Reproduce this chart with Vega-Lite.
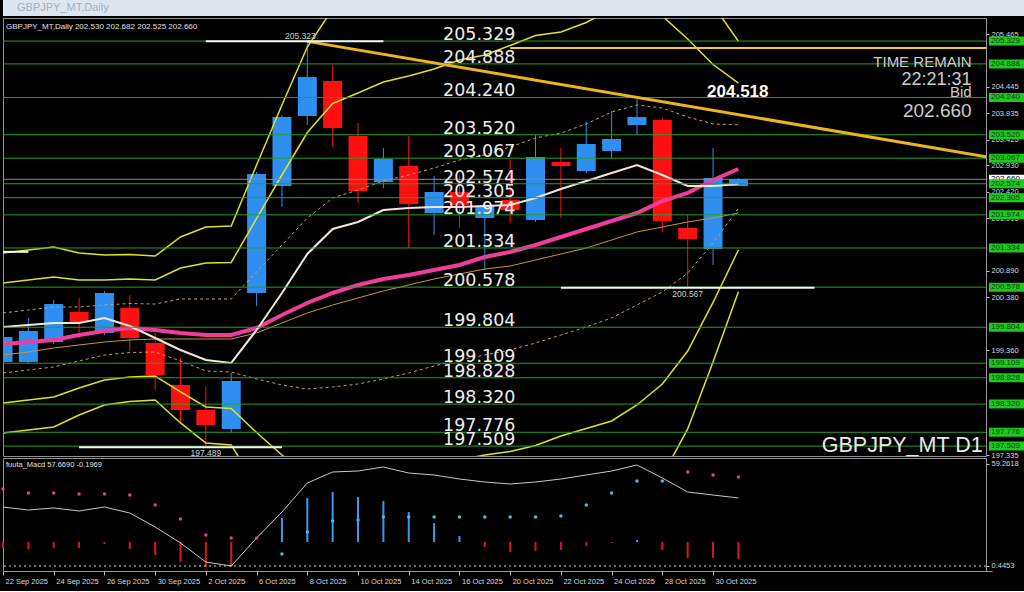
{
"$schema": "https://vega.github.io/schema/vega-lite/v6.json",
"background": "#000000",
"padding": {"left": 0, "top": 0, "right": 0, "bottom": 6},
"spacing": 2,
"bounds": "flush",
"datasets": {
"b": [
{"d":"22 Sep 2025","o":199.133,"h":199.65,"l":199.10,"c":199.616,"ma":199.809,"ema":199.481,"sma":199.268,"u1":200.079,"u2":200.658,"u3":201.238,"l1":198.921,"l2":198.342,"l3":197.762,"m":34.46,"hb":10.82,"dt":44.84,"dk":"p"},
{"d":"23 Sep 2025","o":199.133,"h":199.982,"l":199.10,"c":199.731,"ma":199.847,"ema":199.519,"sma":199.326,"u1":200.137,"u2":200.716,"u3":201.296,"l1":198.979,"l2":198.400,"l3":197.820,"m":32.73,"hb":10.25,"dt":42.54,"dk":"p"},
{"d":"24 Sep 2025","o":199.519,"h":200.33,"l":199.48,"c":200.253,"ma":199.886,"ema":199.558,"sma":199.403,"u1":200.195,"u2":200.774,"u3":201.354,"l1":199.037,"l2":198.458,"l3":197.878,"m":33.89,"hb":10.82,"dt":42.54,"dk":"p"},
{"d":"25 Sep 2025","o":200.098,"h":200.368,"l":199.596,"c":199.905,"ma":199.886,"ema":199.654,"sma":199.461,"u1":200.195,"u2":200.716,"u3":201.238,"l1":199.153,"l2":198.632,"l3":198.110,"m":32.16,"hb":10.82,"dt":41.96,"dk":"p"},
{"d":"26 Sep 2025","o":199.693,"h":200.504,"l":199.65,"c":200.465,"ma":199.982,"ema":199.731,"sma":199.519,"u1":200.234,"u2":200.716,"u3":201.199,"l1":199.268,"l2":198.786,"l3":198.303,"m":34.46,"hb":13.13,"dt":41.96,"dk":"p"},
{"d":"29 Sep 2025","o":200.175,"h":200.426,"l":199.345,"c":199.596,"ma":199.828,"ema":199.789,"sma":199.558,"u1":200.262,"u2":200.735,"u3":201.208,"l1":199.316,"l2":198.843,"l3":198.370,"m":31.00,"hb":10.25,"dt":41.38,"dk":"p"},
{"d":"30 Sep 2025","o":199.50,"h":199.693,"l":198.592,"c":198.882,"ma":199.596,"ema":199.751,"sma":199.577,"u1":200.252,"u2":200.716,"u3":201.179,"l1":199.326,"l2":198.862,"l3":198.399,"m":22.93,"hb":6.79,"dt":35.62,"dk":"p"},
{"d":"1 Oct 2025","o":198.689,"h":199.21,"l":197.955,"c":198.206,"ma":199.365,"ema":199.693,"sma":199.577,"u1":200.350,"u2":200.948,"u3":201.547,"l1":199.153,"l2":198.554,"l3":197.956,"m":13.71,"hb":2.75,"dt":27.55,"dk":"p"},
{"d":"2 Oct 2025","o":198.206,"h":198.65,"l":197.489,"c":197.917,"ma":199.172,"ema":199.654,"sma":199.577,"u1":200.349,"u2":201.044,"u3":201.739,"l1":198.959,"l2":198.264,"l3":197.569,"m":2.75,"hb":-0.13,"dt":18.32,"dk":"p"},
{"d":"3 Oct 2025","o":197.84,"h":198.921,"l":197.762,"c":198.766,"ma":199.114,"ema":199.654,"sma":199.577,"u1":200.350,"u2":201.054,"u3":201.759,"l1":198.940,"l2":198.236,"l3":197.531,"m":0.45,"hb":-0.13,"dt":16.59,"dk":"p"},
{"d":"6 Oct 2025","o":200.465,"h":202.80,"l":200.214,"c":202.762,"ma":199.751,"ema":199.789,"sma":199.693,"u1":200.871,"u2":201.904,"u3":202.936,"l1":198.805,"l2":197.772,"l3":196.740,"m":16.59,"hb":14.0,"dt":16.59,"dk":"p"},
{"d":"7 Oct 2025","o":202.531,"h":203.90,"l":202.125,"c":203.863,"ma":200.465,"ema":200.040,"sma":199.886,"u1":201.391,"u2":202.743,"u3":204.094,"l1":198.689,"l2":197.337,"l3":195.986,"m":31.58,"hb":28.12,"dt":7.36,"dk":"c"},
{"d":"8 Oct 2025","o":203.882,"h":205.323,"l":203.708,"c":204.635,"ma":201.218,"ema":200.272,"sma":200.079,"u1":201.913,"u2":203.563,"u3":205.214,"l1":198.611,"l2":196.961,"l3":195.310,"m":48.30,"hb":39.65,"dt":20.05,"dk":"c"},
{"d":"9 Oct 2025","o":204.558,"h":204.867,"l":203.284,"c":203.65,"ma":201.701,"ema":200.465,"sma":200.233,"u1":202.299,"u2":204.124,"u3":205.948,"l1":198.651,"l2":196.826,"l3":195.002,"m":54.65,"hb":43.11,"dt":26.39,"dk":"c"},
{"d":"10 Oct 2025","o":203.496,"h":203.747,"l":202.202,"c":202.434,"ma":201.836,"ema":200.620,"sma":200.369,"u1":202.454,"u2":204.326,"u3":206.199,"l1":198.708,"l2":196.836,"l3":194.963,"m":55.22,"hb":40.23,"dt":26.97,"dk":"c"},
{"d":"13 Oct 2025","o":202.608,"h":203.264,"l":202.492,"c":203.052,"ma":202.067,"ema":200.735,"sma":200.504,"u1":202.627,"u2":204.538,"u3":206.450,"l1":198.805,"l2":196.894,"l3":194.982,"m":57.53,"hb":37.92,"dt":28.70,"dk":"c"},
{"d":"14 Oct 2025","o":202.917,"h":203.496,"l":201.334,"c":202.183,"ma":202.106,"ema":200.813,"sma":200.620,"u1":202.743,"u2":204.654,"u3":206.566,"l1":198.921,"l2":197.010,"l3":195.098,"m":54.07,"hb":31.58,"dt":28.70,"dk":"c"},
{"d":"15 Oct 2025","o":202.009,"h":202.724,"l":201.585,"c":202.415,"ma":202.125,"ema":200.909,"sma":200.735,"u1":202.878,"u2":204.789,"u3":206.701,"l1":199.056,"l2":197.145,"l3":195.233,"m":52.92,"hb":25.24,"dt":28.70,"dk":"c"},
{"d":"16 Oct 2025","o":202.415,"h":202.74,"l":201.72,"c":202.164,"ma":202.125,"ema":201.006,"sma":200.832,"u1":203.033,"u2":204.963,"u3":206.894,"l1":199.172,"l2":197.241,"l3":195.311,"m":50.61,"hb":17.74,"dt":28.70,"dk":"c"},
{"d":"17 Oct 2025","o":201.913,"h":202.18,"l":200.909,"c":202.145,"ma":202.145,"ema":201.160,"sma":200.928,"u1":203.129,"u2":205.060,"u3":206.990,"l1":199.268,"l2":197.338,"l3":195.407,"m":48.88,"hb":11.40,"dt":28.70,"dk":"c"},
{"d":"20 Oct 2025","o":202.26,"h":203.033,"l":201.816,"c":202.067,"ma":202.164,"ema":201.257,"sma":200.986,"u1":203.284,"u2":205.243,"u3":207.203,"l1":199.365,"l2":197.405,"l3":195.446,"m":47.73,"hb":8.52,"dt":28.70,"dk":"c"},
{"d":"21 Oct 2025","o":201.874,"h":203.515,"l":201.836,"c":203.09,"ma":202.299,"ema":201.392,"sma":201.102,"u1":203.457,"u2":205.436,"u3":207.415,"l1":199.500,"l2":197.521,"l3":195.542,"m":48.88,"hb":9.09,"dt":28.70,"dk":"c"},
{"d":"22 Oct 2025","o":202.994,"h":203.264,"l":201.913,"c":202.917,"ma":202.473,"ema":201.546,"sma":201.218,"u1":203.554,"u2":205.504,"u3":207.453,"l1":199.654,"l2":197.704,"l3":195.755,"m":50.61,"hb":9.67,"dt":29.28,"dk":"c"},
{"d":"23 Oct 2025","o":202.82,"h":203.766,"l":202.78,"c":203.341,"ma":202.627,"ema":201.701,"sma":201.334,"u1":203.728,"u2":205.687,"u3":207.647,"l1":199.809,"l2":197.849,"l3":195.890,"m":52.92,"hb":11.98,"dt":35.62,"dk":"c"},
{"d":"24 Oct 2025","o":203.206,"h":203.979,"l":203.071,"c":203.438,"ma":202.782,"ema":201.855,"sma":201.488,"u1":203.959,"u2":205.948,"u3":207.936,"l1":199.983,"l2":197.994,"l3":196.006,"m":55.22,"hb":13.71,"dt":42.54,"dk":"c"},
{"d":"27 Oct 2025","o":203.708,"h":204.229,"l":203.515,"c":203.863,"ma":202.936,"ema":202.009,"sma":201.643,"u1":204.095,"u2":206.025,"u3":207.956,"l1":200.234,"l2":198.303,"l3":196.373,"m":58.68,"hb":15.44,"dt":49.46,"dk":"c"},
{"d":"28 Oct 2025","o":203.805,"h":203.843,"l":201.643,"c":201.855,"ma":202.743,"ema":202.241,"sma":201.739,"u1":204.036,"u2":205.812,"u3":207.588,"l1":200.484,"l2":198.708,"l3":196.932,"m":51.19,"hb":9.67,"dt":49.46,"dk":"c"},
{"d":"29 Oct 2025","o":201.72,"h":201.971,"l":200.567,"c":201.507,"ma":202.531,"ema":202.396,"sma":201.836,"u1":203.863,"u2":205.369,"u3":206.874,"l1":200.851,"l2":199.345,"l3":197.840,"m":43.11,"hb":5.06,"dt":54.65,"dk":"p"},
{"d":"30 Oct 2025","o":201.314,"h":203.264,"l":201.006,"c":202.685,"ma":202.531,"ema":202.647,"sma":201.913,"u1":203.728,"u2":204.876,"u3":206.025,"l1":201.430,"l2":200.282,"l3":199.133,"m":41.38,"hb":5.06,"dt":52.92,"dk":"p"},
{"d":"31 Oct 2025","o":202.530,"h":202.682,"l":202.525,"c":202.660,"ma":202.569,"ema":202.859,"sma":202.009,"u1":203.713,"u2":204.518,"u3":205.325,"l1":202.101,"l2":201.295,"l3":200.489,"m":39.65,"hb":4.48,"dt":51.76,"dk":"p"}
],
"lv": [{"p":205.329},{"p":204.888},{"p":204.240},{"p":203.520},{"p":203.067},{"p":202.574},{"p":202.305},{"p":201.974},{"p":201.334},{"p":200.578},{"p":199.804},{"p":199.109},{"p":198.828},{"p":198.320},{"p":197.776},{"p":197.509}]
},
"vconcat": [
{
"width": 1024, "height": 16,
"view": {"fill": "#dde6ee", "stroke": null},
"data": {"values": [{"t": "GBPJPY_MT,Daily"}]},
"mark": {"type": "text", "align": "left", "baseline": "middle", "dx": 14, "fontSize": 11, "color": "#9fb0c2", "font": "Liberation Sans"},
"encoding": {"x": {"datum": 0, "type": "quantitative", "scale": {"domain": [0, 1]}, "axis": null}, "text": {"field": "t"}}
},
{
"width": 983, "height": 438,
"layer": [
{"data": {"name": "b"}, "mark": {"type": "rule", "strokeWidth": 1, "clip": true},
 "encoding": {"x": {"field": "d", "type": "ordinal", "scale": {"type": "point", "domain": ["22 Sep 2025","23 Sep 2025","24 Sep 2025","25 Sep 2025","26 Sep 2025","29 Sep 2025","30 Sep 2025","1 Oct 2025","2 Oct 2025","3 Oct 2025","6 Oct 2025","7 Oct 2025","8 Oct 2025","9 Oct 2025","10 Oct 2025","13 Oct 2025","14 Oct 2025","15 Oct 2025","16 Oct 2025","17 Oct 2025","20 Oct 2025","21 Oct 2025","22 Oct 2025","23 Oct 2025","24 Oct 2025","27 Oct 2025","28 Oct 2025","29 Oct 2025","30 Oct 2025","31 Oct 2025","3 Nov 2025","4 Nov 2025","5 Nov 2025","6 Nov 2025","7 Nov 2025","10 Nov 2025","11 Nov 2025","12 Nov 2025","13 Nov 2025","14 Nov 2025"], "range": [0, 989], "padding": 0}, "axis": null},
  "y": {"field": "l", "type": "quantitative", "scale": {"domain": [197.318, 205.774], "nice": false, "zero": false}},
  "y2": {"field": "h"},
  "color": {"condition": {"test": "datum.c >= datum.o", "value": "#2f8ff0"}, "value": "#ff1010"}}},
{"data": {"name": "b"}, "mark": {"type": "bar", "size": 19, "clip": true},
 "encoding": {"x": {"field": "d", "type": "ordinal", "scale": {"type": "point", "domain": ["22 Sep 2025","23 Sep 2025","24 Sep 2025","25 Sep 2025","26 Sep 2025","29 Sep 2025","30 Sep 2025","1 Oct 2025","2 Oct 2025","3 Oct 2025","6 Oct 2025","7 Oct 2025","8 Oct 2025","9 Oct 2025","10 Oct 2025","13 Oct 2025","14 Oct 2025","15 Oct 2025","16 Oct 2025","17 Oct 2025","20 Oct 2025","21 Oct 2025","22 Oct 2025","23 Oct 2025","24 Oct 2025","27 Oct 2025","28 Oct 2025","29 Oct 2025","30 Oct 2025","31 Oct 2025","3 Nov 2025","4 Nov 2025","5 Nov 2025","6 Nov 2025","7 Nov 2025","10 Nov 2025","11 Nov 2025","12 Nov 2025","13 Nov 2025","14 Nov 2025"], "range": [0, 989], "padding": 0}, "axis": null},
  "y": {"field": "o", "type": "quantitative", "scale": {"domain": [197.318, 205.774], "nice": false, "zero": false}},
  "y2": {"field": "c"},
  "color": {"condition": {"test": "datum.c >= datum.o", "value": "#2f8ff0"}, "value": "#ff1010"}}},
{"data": {"name": "b"}, "mark": {"type": "line", "order": false, "color": "#e2e21e", "strokeWidth": 1.5, "clip": true},
 "encoding": {"x": {"field": "d", "type": "ordinal", "axis": null}, "y": {"field": "u3", "type": "quantitative", "scale": {"domain": [197.318, 205.774], "nice": false, "zero": false}}}},
{"data": {"name": "b"}, "mark": {"type": "line", "order": false, "color": "#e2e21e", "strokeWidth": 1.5, "clip": true},
 "encoding": {"x": {"field": "d", "type": "ordinal", "axis": null}, "y": {"field": "u2", "type": "quantitative", "scale": {"domain": [197.318, 205.774], "nice": false, "zero": false}}}},
{"data": {"name": "b"}, "mark": {"type": "line", "order": false, "color": "#e2e21e", "strokeWidth": 1.5, "clip": true},
 "encoding": {"x": {"field": "d", "type": "ordinal", "axis": null}, "y": {"field": "l2", "type": "quantitative", "scale": {"domain": [197.318, 205.774], "nice": false, "zero": false}}}},
{"data": {"name": "b"}, "mark": {"type": "line", "order": false, "color": "#e2e21e", "strokeWidth": 1.5, "clip": true},
 "encoding": {"x": {"field": "d", "type": "ordinal", "axis": null}, "y": {"field": "l3", "type": "quantitative", "scale": {"domain": [197.318, 205.774], "nice": false, "zero": false}}}},
{"data": {"name": "b"}, "mark": {"type": "line", "order": false, "color": "#c9a05a", "strokeWidth": 1, "strokeDash": [3, 3], "clip": true},
 "encoding": {"x": {"field": "d", "type": "ordinal", "axis": null}, "y": {"field": "u1", "type": "quantitative", "scale": {"domain": [197.318, 205.774], "nice": false, "zero": false}}}},
{"data": {"name": "b"}, "mark": {"type": "line", "order": false, "color": "#c9a05a", "strokeWidth": 1, "strokeDash": [3, 3], "clip": true},
 "encoding": {"x": {"field": "d", "type": "ordinal", "axis": null}, "y": {"field": "l1", "type": "quantitative", "scale": {"domain": [197.318, 205.774], "nice": false, "zero": false}}}},
{"data": {"name": "b"}, "mark": {"type": "line", "order": false, "color": "#c8962e", "strokeWidth": 1, "clip": true},
 "encoding": {"x": {"field": "d", "type": "ordinal", "axis": null}, "y": {"field": "sma", "type": "quantitative", "scale": {"domain": [197.318, 205.774], "nice": false, "zero": false}}}},
{"data": {"name": "b"}, "mark": {"type": "line", "order": false, "color": "#f03c9a", "strokeWidth": 4, "clip": true},
 "encoding": {"x": {"field": "d", "type": "ordinal", "axis": null}, "y": {"field": "ema", "type": "quantitative", "scale": {"domain": [197.318, 205.774], "nice": false, "zero": false}}}},
{"data": {"name": "b"}, "mark": {"type": "line", "order": false, "color": "#f2e6dc", "strokeWidth": 2, "clip": true},
 "encoding": {"x": {"field": "d", "type": "ordinal", "axis": null}, "y": {"field": "ma", "type": "quantitative", "scale": {"domain": [197.318, 205.774], "nice": false, "zero": false}}}},
{"data": {"name": "lv"}, "mark": {"type": "rule", "color": "#22a022", "strokeWidth": 1},
 "encoding": {"y": {"field": "p", "type": "quantitative", "scale": {"domain": [197.318, 205.774], "nice": false, "zero": false},
  "axis": {"orient": "right", "values": [205.465, 204.445, 203.935, 203.425, 202.93, 202.42, 201.91, 200.89, 200.38, 199.36, 197.335], "format": ".3f", "tickSize": 3, "labelPadding": 2, "labelOverlap": false, "grid": false, "title": null, "zindex": 0}}}},
{"data": {"values": [{"p": 202.66}]}, "mark": {"type": "rule", "color": "#8a8a8a", "strokeWidth": 1},
 "encoding": {"y": {"field": "p", "type": "quantitative", "scale": {"domain": [197.318, 205.774], "nice": false, "zero": false}}}},
{"data": {"values": [{"d1": "20 Oct 2025", "d2": "14 Nov 2025", "p": 205.195}]}, "mark": {"type": "rule", "color": "#f0d21e", "strokeWidth": 2, "clip": true},
 "encoding": {"x": {"field": "d1", "type": "ordinal", "axis": null}, "x2": {"field": "d2"}, "y": {"field": "p", "type": "quantitative", "scale": {"domain": [197.318, 205.774], "nice": false, "zero": false}}}},
{"data": {"values": [{"d": "8 Oct 2025", "p": 205.323}, {"d": "14 Nov 2025", "p": 203.077}]}, "mark": {"type": "line", "order": false, "color": "#eeb420", "strokeWidth": 3, "clip": true},
 "encoding": {"x": {"field": "d", "type": "ordinal", "axis": null}, "y": {"field": "p", "type": "quantitative", "scale": {"domain": [197.318, 205.774], "nice": false, "zero": false}}}},
{"data": {"values": [{"d1": "2 Oct 2025", "d2": "13 Oct 2025", "p": 205.323}, {"d1": "25 Sep 2025", "d2": "7 Oct 2025", "p": 197.489}, {"d1": "22 Oct 2025", "d2": "5 Nov 2025", "p": 200.567}, {"d1": "22 Sep 2025", "d2": "23 Sep 2025", "p": 201.26}]}, "mark": {"type": "rule", "color": "#f4f4f4", "strokeWidth": 2, "clip": true},
 "encoding": {"x": {"field": "d1", "type": "ordinal", "axis": null}, "x2": {"field": "d2"}, "y": {"field": "p", "type": "quantitative", "scale": {"domain": [197.318, 205.774], "nice": false, "zero": false}}}},
{"data": {"values": [{"d": "8 Oct 2025", "p": 205.323}]}, "mark": {"type": "text", "align": "center", "baseline": "alphabetic", "dx": -7, "dy": -2, "fontSize": 8.5, "color": "#cfcfcf"},
 "encoding": {"x": {"field": "d", "type": "ordinal", "axis": null}, "y": {"field": "p", "type": "quantitative", "scale": {"domain": [197.318, 205.774], "nice": false, "zero": false}}, "text": {"field": "p", "type": "quantitative", "format": ".3f"}}},
{"data": {"values": [{"d": "2 Oct 2025", "p": 197.489}, {"d": "29 Oct 2025", "p": 200.567}]}, "mark": {"type": "text", "align": "center", "baseline": "top", "dy": 2, "fontSize": 8.5, "color": "#cfcfcf"},
 "encoding": {"x": {"field": "d", "type": "ordinal", "axis": null}, "y": {"field": "p", "type": "quantitative", "scale": {"domain": [197.318, 205.774], "nice": false, "zero": false}}, "text": {"field": "p", "type": "quantitative", "format": ".3f"}}},
{"data": {"name": "lv"}, "mark": {"type": "text", "align": "left", "baseline": "alphabetic", "dx": 9, "dy": -1, "fontSize": 17.5, "font": "DejaVu Sans", "color": "#eeeeee"},
 "encoding": {"x": {"datum": "15 Oct 2025", "type": "ordinal", "axis": null}, "y": {"field": "p", "type": "quantitative", "scale": {"domain": [197.318, 205.774], "nice": false, "zero": false}}, "text": {"field": "p", "type": "quantitative", "format": ".3f"}}},
{"data": {"values": [{"d": "30 Oct 2025", "p": 204.518}]}, "mark": {"type": "text", "align": "left", "baseline": "top", "dx": -6, "dy": 1, "fontSize": 17, "fontWeight": "bold", "color": "#ffffff"},
 "encoding": {"x": {"field": "d", "type": "ordinal", "axis": null}, "y": {"field": "p", "type": "quantitative", "scale": {"domain": [197.318, 205.774], "nice": false, "zero": false}}, "text": {"field": "p", "type": "quantitative", "format": ".3f"}}},
{"data": {"values": [{"t": "TIME REMAIN", "p": 204.828}]}, "mark": {"type": "text", "align": "right", "baseline": "alphabetic", "dx": 5, "fontSize": 15, "color": "#cccccc"},
 "encoding": {"x": {"datum": "13 Nov 2025", "type": "ordinal", "axis": null}, "y": {"field": "p", "type": "quantitative", "scale": {"domain": [197.318, 205.774], "nice": false, "zero": false}}, "text": {"field": "t"}}},
{"data": {"values": [{"t": "22:21:31", "p": 204.48}]}, "mark": {"type": "text", "align": "right", "baseline": "alphabetic", "dx": 5, "fontSize": 18, "color": "#cccccc"},
 "encoding": {"x": {"datum": "13 Nov 2025", "type": "ordinal", "axis": null}, "y": {"field": "p", "type": "quantitative", "scale": {"domain": [197.318, 205.774], "nice": false, "zero": false}}, "text": {"field": "t"}}},
{"data": {"values": [{"t": "Bid", "p": 204.249}]}, "mark": {"type": "text", "align": "right", "baseline": "alphabetic", "dx": 5, "fontSize": 15, "color": "#cccccc"},
 "encoding": {"x": {"datum": "13 Nov 2025", "type": "ordinal", "axis": null}, "y": {"field": "p", "type": "quantitative", "scale": {"domain": [197.318, 205.774], "nice": false, "zero": false}}, "text": {"field": "t"}}},
{"data": {"values": [{"t": "202.660", "p": 203.863}]}, "mark": {"type": "text", "align": "right", "baseline": "alphabetic", "dx": 5, "fontSize": 19, "color": "#cccccc"},
 "encoding": {"x": {"datum": "13 Nov 2025", "type": "ordinal", "axis": null}, "y": {"field": "p", "type": "quantitative", "scale": {"domain": [197.318, 205.774], "nice": false, "zero": false}}, "text": {"field": "t"}}},
{"data": {"values": [{"t": "GBPJPY_MT D1", "p": 197.396}]}, "mark": {"type": "text", "align": "right", "baseline": "alphabetic", "dx": 16, "fontSize": 21.5, "color": "#e8e8e8"},
 "encoding": {"x": {"datum": "13 Nov 2025", "type": "ordinal", "axis": null}, "y": {"field": "p", "type": "quantitative", "scale": {"domain": [197.318, 205.774], "nice": false, "zero": false}}, "text": {"field": "t"}}},
{"data": {"values": [{"t": "GBPJPY_MT,Daily  202.530 202.682 202.525 202.660", "p": 205.774}]}, "mark": {"type": "text", "align": "left", "baseline": "top", "dx": 3, "dy": 5, "fontSize": 8, "color": "#e0e0e0"},
 "encoding": {"x": {"datum": "22 Sep 2025", "type": "ordinal", "axis": null}, "y": {"field": "p", "type": "quantitative", "scale": {"domain": [197.318, 205.774], "nice": false, "zero": false}}, "text": {"field": "t"}}},
{"data": {"values": [{"p": 202.66}]}, "mark": {"type": "rect", "color": "#ffffff", "xOffset": -3, "x2Offset": 35, "yOffset": -4.5, "y2Offset": 4.5, "zindex": 2},
 "encoding": {"x": {"datum": "14 Nov 2025", "type": "ordinal", "axis": null}, "x2": {"datum": "14 Nov 2025"}, "y": {"field": "p", "type": "quantitative", "scale": {"domain": [197.318, 205.774], "nice": false, "zero": false}}, "y2": {"field": "p"}}},
{"data": {"values": [{"p": 202.66}]}, "mark": {"type": "text", "align": "left", "baseline": "middle", "dx": -1, "fontSize": 8, "color": "#000000", "zindex": 2},
 "encoding": {"x": {"datum": "14 Nov 2025", "type": "ordinal", "axis": null}, "y": {"field": "p", "type": "quantitative", "scale": {"domain": [197.318, 205.774], "nice": false, "zero": false}}, "text": {"field": "p", "type": "quantitative", "format": ".3f"}}},
{"data": {"name": "lv"}, "mark": {"type": "rect", "color": "#1ec81e", "xOffset": -3, "x2Offset": 35, "yOffset": -4.5, "y2Offset": 4.5, "zindex": 2},
 "encoding": {"x": {"datum": "14 Nov 2025", "type": "ordinal", "axis": null}, "x2": {"datum": "14 Nov 2025"}, "y": {"field": "p", "type": "quantitative", "scale": {"domain": [197.318, 205.774], "nice": false, "zero": false}}, "y2": {"field": "p"}}},
{"data": {"name": "lv"}, "mark": {"type": "text", "align": "left", "baseline": "middle", "dx": -1, "fontSize": 8, "color": "#0b3f0b", "zindex": 2},
 "encoding": {"x": {"datum": "14 Nov 2025", "type": "ordinal", "axis": null}, "y": {"field": "p", "type": "quantitative", "scale": {"domain": [197.318, 205.774], "nice": false, "zero": false}}, "text": {"field": "p", "type": "quantitative", "format": ".3f"}}}
]
},
{
"width": 983, "height": 113,
"layer": [
{"data": {"name": "b"}, "mark": {"type": "rule", "strokeWidth": 2},
 "encoding": {"x": {"field": "d", "type": "ordinal", "scale": {"type": "point", "domain": ["22 Sep 2025","23 Sep 2025","24 Sep 2025","25 Sep 2025","26 Sep 2025","29 Sep 2025","30 Sep 2025","1 Oct 2025","2 Oct 2025","3 Oct 2025","6 Oct 2025","7 Oct 2025","8 Oct 2025","9 Oct 2025","10 Oct 2025","13 Oct 2025","14 Oct 2025","15 Oct 2025","16 Oct 2025","17 Oct 2025","20 Oct 2025","21 Oct 2025","22 Oct 2025","23 Oct 2025","24 Oct 2025","27 Oct 2025","28 Oct 2025","29 Oct 2025","30 Oct 2025","31 Oct 2025","3 Nov 2025","4 Nov 2025","5 Nov 2025","6 Nov 2025","7 Nov 2025","10 Nov 2025","11 Nov 2025","12 Nov 2025","13 Nov 2025","14 Nov 2025"], "range": [0, 989], "padding": 0},
   "axis": {"values": ["22 Sep 2025","24 Sep 2025","26 Sep 2025","30 Sep 2025","2 Oct 2025","6 Oct 2025","8 Oct 2025","10 Oct 2025","14 Oct 2025","16 Oct 2025","20 Oct 2025","22 Oct 2025","24 Oct 2025","28 Oct 2025","30 Oct 2025"], "labelAlign": "left", "labelAngle": 0, "labelOffset": 2, "labelPadding": 2, "tickSize": 4, "labelOverlap": false, "grid": false, "title": null}},
  "y": {"field": "hb", "type": "quantitative", "scale": {"domain": [-2.438, 62.72], "nice": false, "zero": false},
   "axis": {"orient": "right", "values": [0.4453, 59.2618], "format": ".4f", "tickSize": 3, "labelPadding": 2, "grid": false, "title": null}},
  "y2": {"datum": 14.28},
  "color": {"condition": {"test": "datum.hb > 14.28", "value": "#3b97f0"}, "value": "#e01515"}}},
{"data": {"values": [{"v": 0.4453}]}, "mark": {"type": "rule", "color": "#d0d0d0", "strokeDash": [2, 3], "strokeWidth": 1},
 "encoding": {"y": {"field": "v", "type": "quantitative", "scale": {"domain": [-2.438, 62.72], "nice": false, "zero": false}}}},
{"data": {"name": "b"}, "mark": {"type": "line", "order": false, "color": "#c8c8c8", "strokeWidth": 1},
 "encoding": {"x": {"field": "d", "type": "ordinal"}, "y": {"field": "m", "type": "quantitative", "scale": {"domain": [-2.438, 62.72], "nice": false, "zero": false}}}},
{"data": {"name": "b"}, "mark": {"type": "circle", "size": 12, "opacity": 1},
 "encoding": {"x": {"field": "d", "type": "ordinal"}, "y": {"field": "dt", "type": "quantitative", "scale": {"domain": [-2.438, 62.72], "nice": false, "zero": false}},
  "color": {"field": "dk", "type": "nominal", "scale": {"domain": ["p", "c"], "range": ["#e0457f", "#3fc6d6"]}, "legend": null}}},
{"data": {"values": [{"t": "fuuta_Macd 57.6690  -0.1969", "v": 62.72}]}, "mark": {"type": "text", "align": "left", "baseline": "top", "dx": 3, "dy": 3, "fontSize": 7.5, "color": "#e0e0e0"},
 "encoding": {"x": {"datum": "22 Sep 2025", "type": "ordinal"}, "y": {"field": "v", "type": "quantitative", "scale": {"domain": [-2.438, 62.72], "nice": false, "zero": false}}, "text": {"field": "t"}}}
]
}
],
"config": {
"view": {"stroke": "#8f8f8f", "strokeWidth": 1},
"axis": {"labelFont": "Liberation Sans", "labelFontSize": 7.5, "labelColor": "#d8d8d8", "domainColor": "#9a9a9a", "tickColor": "#bdbdbd"},
"axisY": {"orient": "right"},
"text": {"font": "Liberation Sans"}
}
}
